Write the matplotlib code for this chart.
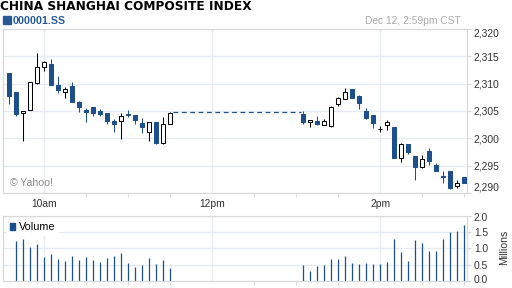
import matplotlib
matplotlib.use('Agg')
import matplotlib.pyplot as plt
import matplotlib.dates as mdates
from matplotlib.patches import Patch, Rectangle
from matplotlib.transforms import ScaledTranslation
from matplotlib.ticker import FixedLocator, FixedFormatter
import numpy as np
import pandas as pd

plt.rcParams['font.family'] = ['Liberation Sans', 'DejaVu Sans']

# 5 minute candles, morning session then afternoon session
am_open  = [2311.95, 2308.5, 2304.6, 2305.1, 2310.1, 2313.0, 2313.6, 2309.8, 2308.4, 2309.6, 2306.65, 2305.1,
            2305.8, 2305.05, 2304.6, 2303.1, 2303.1, 2304.5, 2304.3, 2302.8, 2301.1, 2303.0, 2299.1, 2302.7]
am_close = [2307.8, 2304.5, 2304.95, 2310.25, 2313.0, 2313.95, 2309.8, 2308.9, 2309.0, 2306.7, 2305.7, 2304.9,
            2304.7, 2304.45, 2303.1, 2302.7, 2304.1, 2304.2, 2303.4, 2302.0, 2302.9, 2299.15, 2302.6, 2304.6]
am_high  = [2312.0, 2308.5, 2305.0, 2310.3, 2315.7, 2314.2, 2314.5, 2311.4, 2309.3, 2310.25, 2306.8, 2305.6,
            2305.8, 2305.3, 2304.6, 2303.5, 2304.6, 2305.1, 2304.3, 2303.7, 2302.9, 2303.0, 2303.85, 2304.8]
am_low   = [2306.3, 2304.1, 2299.6, 2305.1, 2310.0, 2312.4, 2309.8, 2308.35, 2307.4, 2306.7, 2304.9, 2302.9,
            2304.0, 2304.0, 2302.6, 2301.2, 2299.9, 2303.85, 2302.7, 2301.0, 2299.6, 2298.9, 2298.9, 2302.7]

pm_open  = [2304.5, 2302.9, 2303.1, 2302.45, 2302.25, 2306.3, 2307.2, 2309.0, 2307.8, 2304.95, 2304.3, 2301.7,
            2302.4, 2302.0, 2296.4, 2299.0, 2296.8, 2294.8, 2297.7, 2295.1, 2293.1, 2294.0, 2291.3, 2292.9]
pm_close = [2303.05, 2303.3, 2302.6, 2303.1, 2305.7, 2307.4, 2308.5, 2307.4, 2306.4, 2303.8, 2302.75, 2301.75,
            2303.0, 2296.45, 2299.0, 2297.5, 2294.8, 2296.2, 2295.9, 2294.0, 2293.0, 2290.95, 2291.9, 2291.9]
pm_high  = [2305.0, 2303.3, 2304.0, 2303.5, 2306.0, 2307.6, 2309.15, 2309.0, 2308.0, 2305.55, 2304.3, 2302.25,
            2303.3, 2302.0, 2299.2, 2299.0, 2296.8, 2296.95, 2298.2, 2295.55, 2294.0, 2294.0, 2292.4, 2292.9]
pm_low   = [2302.6, 2302.0, 2302.4, 2302.45, 2302.0, 2306.0, 2307.2, 2307.4, 2305.4, 2303.6, 2301.9, 2301.2,
            2301.5, 2296.45, 2295.7, 2297.2, 2292.4, 2294.6, 2295.1, 2294.0, 2291.8, 2290.8, 2290.95, 2291.9]

# lunch break level (dashed line)
gap_level = 2304.8

# volume in millions
vol_am = [1.22, 1.29, 1.04, 1.13, 0.73, 0.83, 0.67, 0.61, 0.77, 0.64, 0.73, 0.64,
          0.58, 0.70, 0.77, 0.86, 0.55, 0.43, 0.49, 0.70, 0.52, 0.64, 0.40]
vol_pm = [0.49, 0.31, 0.46, 0.49, 0.67, 0.67, 0.77, 0.55, 0.52, 0.55, 0.52, 0.52,
          0.58, 1.29, 0.89, 0.61, 1.26, 1.16, 0.92, 0.92, 1.29, 1.50, 1.53, 1.71]

price_ticks = [2290, 2295, 2300, 2305, 2310, 2315, 2320]
price_labels = ['2,290', '2,295', '2,300', '2,305', '2,310', '2,315', '2,320']
vol_ticks = [0.0, 0.5, 1.0, 1.5, 2.0]
vol_labels = ['0.0', '0.5', '1.0', '1.5', '2.0']
hour_labels = ['10am', '12pm', '2pm']

day = '2012-12-12 '
am_times = pd.date_range(day + '09:35', periods=len(am_open), freq='5min')
pm_times = pd.date_range(day + '13:05', periods=len(pm_open), freq='5min')
vol_am_times = am_times[1:]

blue = '#1d4f8c'
grid_c = '#e6eaf1'
frame_c = '#d9d9d9'
text_c = '#333333'

def t2n(ts):
    return mdates.date2num(pd.DatetimeIndex(ts).to_pydatetime())

x_am = t2n(am_times)
x_pm = t2n(pm_times)
x = np.concatenate([x_am, x_pm])
o = np.array(am_open + pm_open)
c = np.array(am_close + pm_close)
h = np.array(am_high + pm_high)
l = np.array(am_low + pm_low)
up = c >= o

fig = plt.figure(figsize=(5.12, 2.88), dpi=100)
ax = fig.add_axes([3/512, 95/288, 464/512, 164/288])
axv = fig.add_axes([3/512, 7/288, 464/512, 65.3/288])

minute = 1/1440.
xmin = mdates.date2num(pd.Timestamp(day + '09:30:30'))
xmax = mdates.date2num(pd.Timestamp(day + '15:01:55'))
major = t2n([day + '10:00', day + '12:00', day + '14:00'])
minor = t2n([day + s for s in ['10:30', '11:00', '11:30', '12:30', '13:00', '13:30', '14:30', '15:00']])

# candles
ax.vlines(x[up], l[up], h[up], color='black', lw=0.75, zorder=2)
ax.vlines(x[~up], l[~up], h[~up], color=blue, lw=0.75, zorder=2)
ax.bar(x, np.abs(c - o), bottom=np.minimum(o, c), width=2.9*minute,
       color=np.where(up, 'white', blue), edgecolor=np.where(up, 'black', blue),
       linewidth=0.75, zorder=3)
ax.plot([x_am[-1] + 2*minute, x_pm[0] - 2*minute], [gap_level, gap_level],
        color=blue, lw=0.9, linestyle=(0, (3.8, 2.9)), zorder=2)

# volume bars
axv.vlines(t2n(vol_am_times), 0, vol_am, color=blue, lw=0.9)
axv.vlines(x_pm, 0, vol_pm, color=blue, lw=0.9)

for a in (ax, axv):
    a.set_xlim(xmin, xmax)
    a.xaxis.set_major_locator(FixedLocator(major))
    a.xaxis.set_minor_locator(FixedLocator(minor))
    a.grid(True, which='major', color=grid_c, lw=0.9)
    a.set_axisbelow(True)
    for s in a.spines.values():
        s.set_color(frame_c)
        s.set_linewidth(0.9)
    a.yaxis.tick_right()
    a.tick_params(axis='x', which='major', length=0, labelsize=7.4, colors=text_c, pad=4)
    a.tick_params(axis='x', which='minor', length=3, color=frame_c, width=0.8)
    a.tick_params(axis='y', length=3, color=frame_c, width=0.8, labelsize=7.4,
                  labelcolor=text_c, pad=2)

ax.xaxis.set_major_formatter(FixedFormatter(hour_labels))
axv.xaxis.set_major_formatter(FixedFormatter(['', '', '']))

ax.set_ylim(2290, 2320)
ax.set_yticks(price_ticks)
ax.set_yticklabels(price_labels)
axv.set_ylim(0, 2.0)
axv.set_yticks(vol_ticks)
axv.set_yticklabels(vol_labels)

# nudge the end labels inside the panel like the original
def nudge(tick, dy_px):
    lab = tick.label2
    lab.set_transform(lab.get_transform() + ScaledTranslation(0, dy_px/100., fig.dpi_scale_trans))

pt = ax.yaxis.get_major_ticks()
nudge(pt[0], 6)
nudge(pt[-1], -3)
vt = axv.yaxis.get_major_ticks()
nudge(vt[0], 2.3)
nudge(vt[-1], -1.6)

axv.legend(handles=[Patch(color=blue, label='Volume')], loc='upper left',
           bbox_to_anchor=(0, 1), borderaxespad=0.25, borderpad=0.35,
           handlelength=0.55, handleheight=0.55, handletextpad=0.3,
           fontsize=7.8, frameon=True, fancybox=False, edgecolor='none',
           facecolor='white', framealpha=1)

ax.text(6.7/464, (193-183.3)/164, '\u00a9 Yahoo!', transform=ax.transAxes,
        fontsize=7.6, color='#8a8a8a', va='center', ha='left')

# header
fig.text(0.5/512, 1 - 10.3/288, 'CHINA SHANGHAI COMPOSITE INDEX', family='DejaVu Sans',
         weight='bold', fontsize=8.75, color='black', va='baseline', ha='left')
fig.patches.append(Rectangle((2.7/512, 1 - 24.3/288), 8/512, 8/288,
                             transform=fig.transFigure, color='#275a96'))
fig.text(12.7/512, 1 - 24/288, '000001.SS', weight='bold', fontsize=7.7,
         color='#275a96', va='baseline', ha='left')
fig.text(461/512, 1 - 24/288, 'Dec 12, 2:59pm CST', fontsize=7.4,
         color='#a8a8a8', va='baseline', ha='right')
fig.text(504/512, 1 - 247.5/288, 'Millions', rotation=90, fontsize=7.6,
         color=text_c, va='center', ha='center')

fig.savefig('out.png', dpi=100)
